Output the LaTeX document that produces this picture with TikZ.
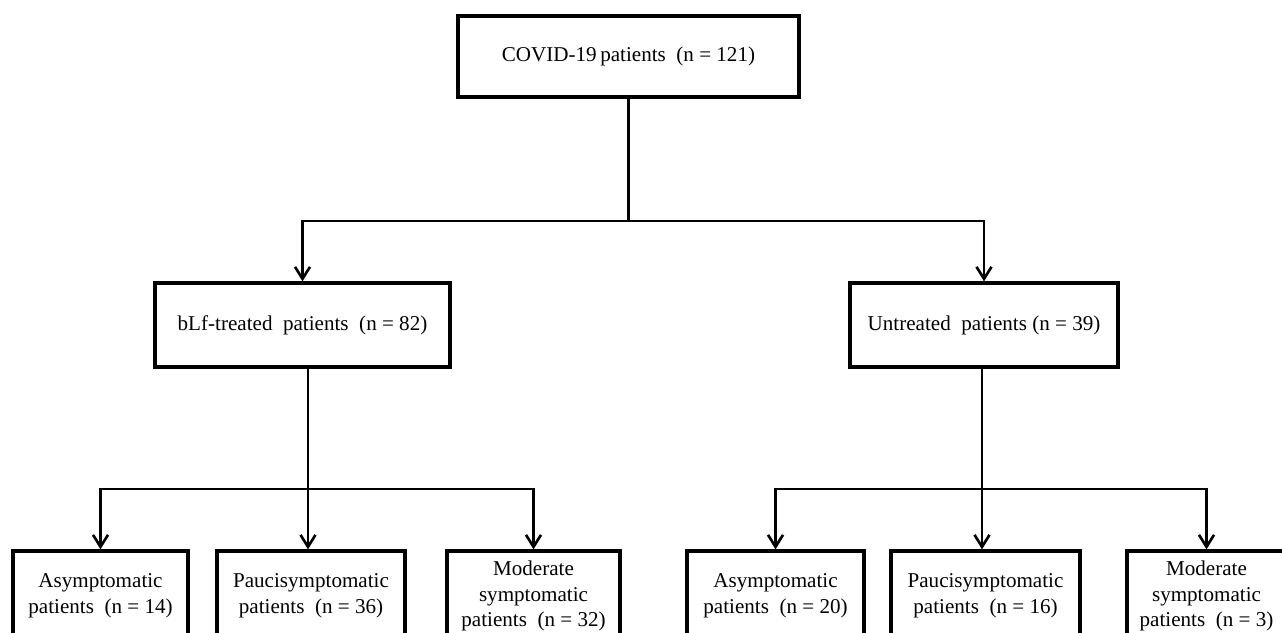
\documentclass[tikz,border=0pt]{standalone}
\usepackage{fontspec}
\setmainfont{Liberation Serif}
\usepackage{tikz}
\usetikzlibrary{arrows.meta}

\begin{document}
\begin{tikzpicture}
    \tikzstyle{box} = [rectangle, draw=black, line width=1.9pt, align=center, inner sep=0pt, font=\fontsize{12}{14.7}\selectfont]
    \tikzstyle{leaf} = [box, minimum height=1.8cm]
    \tikzstyle{line} = [line width=1.5pt]
    \tikzstyle{arrow} = [line, -{Straight Barb[length=2.4mm, width=3mm, line width=1.5pt]}]
    \useasboundingbox (0,0) rectangle (25.64,-12.64);
    \clip (0,0) rectangle (25.64,-12.64);

    \node[box, minimum width=6.82cm, minimum height=1.62cm] (top) at (12.57,-1.13) {COVID-19\,patients~~(n = 121)};
    \node[box, minimum width=5.9cm, minimum height=1.68cm] (treated) at (6.05,-6.5) {bLf-treated~~patients~~(n = 82)};
    \node[box, minimum width=5.36cm, minimum height=1.68cm] (untreated) at (19.68,-6.5) {Untreated~~patients (n = 39)};

    \node[leaf, minimum width=3.5cm] (t1) at (2.01,-11.92) {Asymptomatic\\patients~~(n = 14)};
    \node[leaf, minimum width=3.76cm] (t2) at (6.22,-11.92) {Paucisymptomatic\\patients~~(n = 36)};
    \node[leaf, minimum width=3.46cm] (t3) at (10.67,-11.92) {Moderate\\symptomatic\\patients~~(n = 32)};
    \node[leaf, minimum width=3.54cm] (u1) at (15.51,-11.92) {Asymptomatic\\patients~~(n = 20)};
    \node[leaf, minimum width=3.78cm] (u2) at (19.71,-11.92) {Paucisymptomatic\\patients~~(n = 16)};
    \node[leaf, minimum width=3.18cm] (u3) at (24.13,-11.92) {Moderate\\symptomatic\\patients~~(n = 3)};

    % branch points
    \coordinate (s0) at (12.57,-4.42);
    \coordinate (s1) at (6.16,-9.78);
    \coordinate (s2) at (19.64,-9.78);

    \draw[line] (top) -- (s0);
    \draw[arrow] (s0) -| (treated);
    \draw[arrow] (s0) -| (untreated);

    \draw[line] (treated.south -| s1) -- (s1);
    \draw[arrow] (s1) -| (t1);
    \draw[arrow] (s1) -- (s1 |- t2.north);
    \draw[arrow] (s1) -| (t3);

    \draw[line] (untreated.south -| s2) -- (s2);
    \draw[arrow] (s2) -| (u1);
    \draw[arrow] (s2) -- (s2 |- u2.north);
    \draw[arrow] (s2) -| (u3);
\end{tikzpicture}
\end{document}
